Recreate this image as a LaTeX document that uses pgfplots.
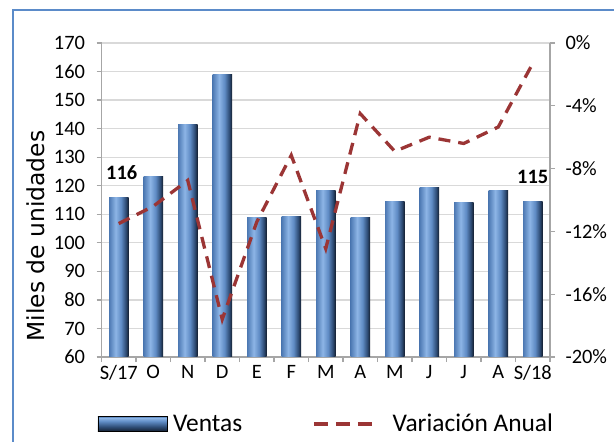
\documentclass[border=0pt]{standalone}
\usepackage{fontspec}
\setmainfont{Carlito}
\newfontfamily\labelfont{DejaVu Sans}
\usepackage{pgfplots}
\pgfplotsset{compat=1.18}
\definecolor{axgray}{HTML}{A6A6A6}
\definecolor{gridgray}{HTML}{D9D9D9}
\definecolor{lineRed}{HTML}{9B3535}
\definecolor{frameBlue}{HTML}{5B8BC9}
\definecolor{bA}{HTML}{4C78B2}
\definecolor{bB}{HTML}{8DB5E6}
\definecolor{bC}{HTML}{5F8BC4}
\definecolor{bD}{HTML}{2E4C75}
\definecolor{bE}{HTML}{141F30}
\pgfdeclarehorizontalshading{barshade}{100bp}{color(0bp)=(bA); color(25bp)=(bA); color(42bp)=(bB); color(56bp)=(bC); color(68bp)=(bD); color(75bp)=(bE); color(100bp)=(bE)}
\pgfdeclareverticalshading{legshade}{100bp}{color(0bp)=(bE); color(25bp)=(bE); color(40bp)=(bD); color(58bp)=(bC); color(70bp)=(bB); color(75bp)=(bA); color(100bp)=(bA)}
\pgfplotsset{barst/.style={draw=none, shading=barshade, bar shift=0pt, forget plot}}
\begin{document}
\begin{tikzpicture}[font=\fontsize{20.5}{24}\selectfont]
\path[use as bounding box] (0bp,0bp) rectangle (614bp,442bp);
\draw[frameBlue, line width=1.5bp] (13bp,-2bp) -- (13bp,432bp) -- (616bp,432bp);
\begin{axis}[
  at={(101.5bp,85bp)}, anchor=south west, width=448.5bp, height=314bp, scale only axis,
  xmin=-0.5, xmax=12.5, ymin=60, ymax=170,
  ytick={60,70,...,170},
  xtick={0,...,12},
  xticklabels={S/17,O,N,D,E,F,M,A,M,J,J,A,S/18},
  minor xtick={-0.5,0.5,...,12.5},
  major x tick style={draw=none},
  tick align=outside,
  axis x line*=bottom, axis y line*=left,
  axis line style={axgray, line width=1.3bp},
  every tick/.style={axgray, line width=1.3bp},
  major tick length=5bp, minor tick length=5bp,
  ymajorgrids, grid style={gridgray, line width=1.3bp},
  ybar, bar width=19.5bp,
  /pgf/number format/assume math mode=true,
  yticklabel style={xshift=-8bp},
  ylabel={Miles de unidades},
  every axis y label/.style={at={(axis description cs:-0.147,0.385)}, rotate=90, anchor=center, font=\labelfont\fontsize{23.5}{28}\selectfont},
  clip=false,
]
\addplot[barst] coordinates {(0,116)};
\addplot[barst] coordinates {(1,123.2)};
\addplot[barst] coordinates {(2,141.4)};
\addplot[barst] coordinates {(3,158.8)};
\addplot[barst] coordinates {(4,108.9)};
\addplot[barst] coordinates {(5,109.3)};
\addplot[barst] coordinates {(6,118.5)};
\addplot[barst] coordinates {(7,108.9)};
\addplot[barst] coordinates {(8,114.3)};
\addplot[barst] coordinates {(9,119.4)};
\addplot[barst] coordinates {(10,114.2)};
\addplot[barst] coordinates {(11,118.5)};
\addplot[barst] coordinates {(12,114.4)};
\node[font=\bfseries\fontsize{20.5}{24}\selectfont, anchor=base] at (axis cs:0,116) [xshift=3bp, yshift=18bp] {116};
\node[font=\bfseries\fontsize{20.5}{24}\selectfont, anchor=base] at (axis cs:12,114.4) [yshift=18.5bp] {115};
\end{axis}
\begin{axis}[
  at={(101.5bp,85bp)}, anchor=south west, width=448.5bp, height=314bp, scale only axis,
  xmin=-0.5, xmax=12.5, ymin=-20, ymax=0,
  axis y line*=right, axis x line=none,
  ytick={-20,-16,...,0},
  yticklabels={-20\%,-16\%,-12\%,-8\%,-4\%,0\%},
  tick align=outside,
  axis line style={axgray, line width=1.3bp},
  every tick/.style={axgray, line width=1.3bp},
  major tick length=5bp,
  yticklabel style={xshift=7bp},
  legend columns=2,
  legend style={at={(axis description cs:-0.009,-0.213)}, anchor=west, draw=none, fill=none,
    inner xsep=0pt, inner ysep=0pt,
    nodes={inner sep=0pt, font=\fontsize{25.5}{29}\selectfont},
    /tikz/every odd column/.append style={column sep=6bp},
    /tikz/every even column/.append style={column sep=70bp}},
]
\addlegendimage{legend image code/.code={\shade[shading=legshade] (0bp,-7.5bp) rectangle (69bp,7.5bp);}}
\addlegendentry{Ventas}
\addplot[lineRed, line width=3.3bp, dash pattern=on 12bp off 8bp,
  legend image code/.code={\draw[lineRed, line width=3.3bp, dash pattern=on 14bp off 8bp] (0bp,0bp) -- (58bp,0bp); \path (71bp,0bp);}]
  coordinates {
(0,-11.5) (1,-10.4) (2,-8.75) (3,-17.6) (4,-11.4) (5,-7.15) (6,-13.1)
(7,-4.5) (8,-6.9) (9,-6.0) (10,-6.4) (11,-5.35) (12,-1.3)};
\addlegendentry{Variación Anual}
\end{axis}
\end{tikzpicture}
\end{document}
